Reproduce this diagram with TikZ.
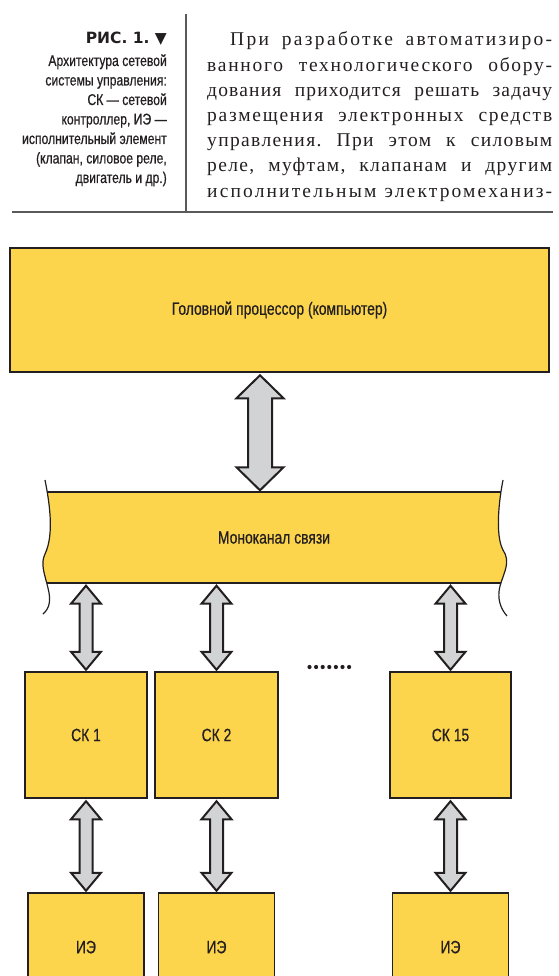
\documentclass[tikz,border=0pt]{standalone}
\usepackage{fontspec}
\setmainfont{Liberation Serif}
\newfontfamily\bodyfont{Liberation Serif}
\newfontfamily\capfont[FakeStretch=0.78,FakeBold=0.6]{Liberation Sans}
\newfontfamily\symfont{DejaVu Sans}
\usetikzlibrary{calc,positioning}
\definecolor{bryellow}{HTML}{FDD54C}
\definecolor{brgrey}{HTML}{D1D3D4}
\definecolor{brink}{HTML}{231F20}
\definecolor{brrule}{HTML}{58595B}

% double block arrow between two points (top, bottom): shaft/head half-widths, head length
\newcommand{\biarrow}[5]{%
  \draw[arrowline] let \p1=($(#1)+(0,2.5)$), \p2=($(#2)+(0,-1.5)$) in
    (\x1,\y1) -- (\x1+#4pt,\y1-#5pt) -- (\x1+#3pt,\y1-#5pt) -- (\x1+#3pt,\y2+#5pt)
    -- (\x1+#4pt,\y2+#5pt) -- (\x1,\y2) -- (\x1-#4pt,\y2+#5pt) -- (\x1-#3pt,\y2+#5pt)
    -- (\x1-#3pt,\y1-#5pt) -- (\x1-#4pt,\y1-#5pt) -- cycle;}

\tikzset{
  blk/.style={draw=brink, fill=bryellow, line width=1.5pt, inner sep=0pt,
    font=\capfont\fontsize{17.8}{20}\selectfont, text=brink},
  arrowline/.style={draw=brink, fill=brgrey, line width=2pt, line join=miter},
  capline/.style={font=\capfont\fontsize{15.6}{19}\selectfont, anchor=base east,
    inner sep=0pt, text=brink},
  bodyline/.style={font=\bodyfont\fontsize{19.5}{25}\selectfont, anchor=base west,
    inner sep=0pt, text=brink},
  wave/.style={draw=brink, line width=1.2pt},
}

\begin{document}
\frenchspacing
\begin{tikzpicture}[x=1pt,y=-1pt]
  \useasboundingbox (0,0) rectangle (558,976);
  \clip (0,0) rectangle (558,976);
  % подпись
  \node[capline, font=\symfont\bfseries\fontsize{15.5}{19}\selectfont] (fig) at (167,44)
    {РИС. 1. ▼};
  \foreach \y/\t in {66/Архитектура сетевой, 85.5/системы управления:,
    105/СК — сетевой, {124.5/контроллер, ИЭ —}, 144/исполнительный элемент,
    {163.5/(клапан, силовое реле,}, 183/двигатель и др.)}
    \node[capline] (cap\y) at (167,\y) {\t};
  \draw[brrule, line width=1.2pt] (186,14) -- (186,212);
  % текст: строка / отступ / разрядка / текст
  \foreach \k/\ind/\ls/\t in {0/23/12/При разработке автоматизиро-,
    1/0/9/ванного технологического обору-, 2/0/6/дования приходится решать задачу,
    3/0/9/размещения электронных средств, 4/0/7/управления. При этом к силовым,
    {5/0/7/реле, муфтам, клапанам и другим}, 6/0/11/исполнительным электромеханиз-}
    \node[bodyline] (txt\k) at (207+\ind,46+\k*25.2)
      {\addfontfeature{LetterSpace=\ls}\makebox[\dimexpr345pt-\ind pt\relax][s]{\t}};
  \draw[brrule, line width=1.5pt] (12,212) -- (553,212);
  % головной процессор
  \node[blk, minimum width=539pt, minimum height=124pt] (head) at (279.5,310)
    {Головной процессор (компьютер)};
  % моноканал
  \node[inner sep=0pt, minimum width=454pt, minimum height=91pt] (chan) at (274,537.5) {};
  \begin{scope}
    \clip (0,492) rectangle (558,583);
    \fill[bryellow] (45,480) .. controls (50,505) and (54,535) .. (45,554)
      .. controls (40,564) and (45,575) .. (48,588) .. controls (51,600) and (50,608) .. (43,614)
      -- (507,616) .. controls (500,608) and (497,598) .. (500,586)
      .. controls (504,572) and (511,562) .. (503,550) .. controls (495,535) and (499,500) .. (503,480)
      -- cycle;
  \end{scope}
  \node[font=\capfont\fontsize{17.8}{20}\selectfont, text=brink] (chantxt) at (chan.center) {Моноканал связи};
  \draw[line width=1.5pt, brink] (chan.north west) -- (chan.north east);
  \draw[line width=1.5pt, brink] (chan.south west) -- (chan.south east);
  \draw[wave] (45,480) .. controls (50,505) and (54,535) .. (45,554)
    .. controls (40,564) and (45,575) .. (48,588) .. controls (51,600) and (50,608) .. (43,614);
  \draw[wave] (503,480) .. controls (499,500) and (495,535) .. (503,550)
    .. controls (511,562) and (504,572) .. (500,586) .. controls (497,598) and (500,608) .. (507,616);
  \coordinate (hp) at (260,0);
  \biarrow{head.south -| hp}{chan.north -| hp}{12}{23.5}{23}
  % контроллеры и исполнительные элементы
  \foreach \c/\cx/\w/\dy in {1/86/122/0, 2/216.5/123/0, 15/450.5/121/-5} {
    \node[blk, minimum width=\w pt, minimum height=126pt] (ck\c) at (\cx,735)
      {\raisebox{\dy pt}{СК \c}};
    \node[blk, minimum width=116pt, minimum height=110pt] (ie\c) at (\cx,948) {\raisebox{2pt}{ИЭ}};
    \biarrow{chan.south -| ck\c}{ck\c.north}{6.5}{15}{18}
    \biarrow{ck\c.south}{ie\c.north}{6.5}{15}{18}
  }
  \foreach \i in {0,...,6}
    \fill[brink] (309.5+\i*6.6,667) circle (2.1pt);
\end{tikzpicture}
\end{document}
